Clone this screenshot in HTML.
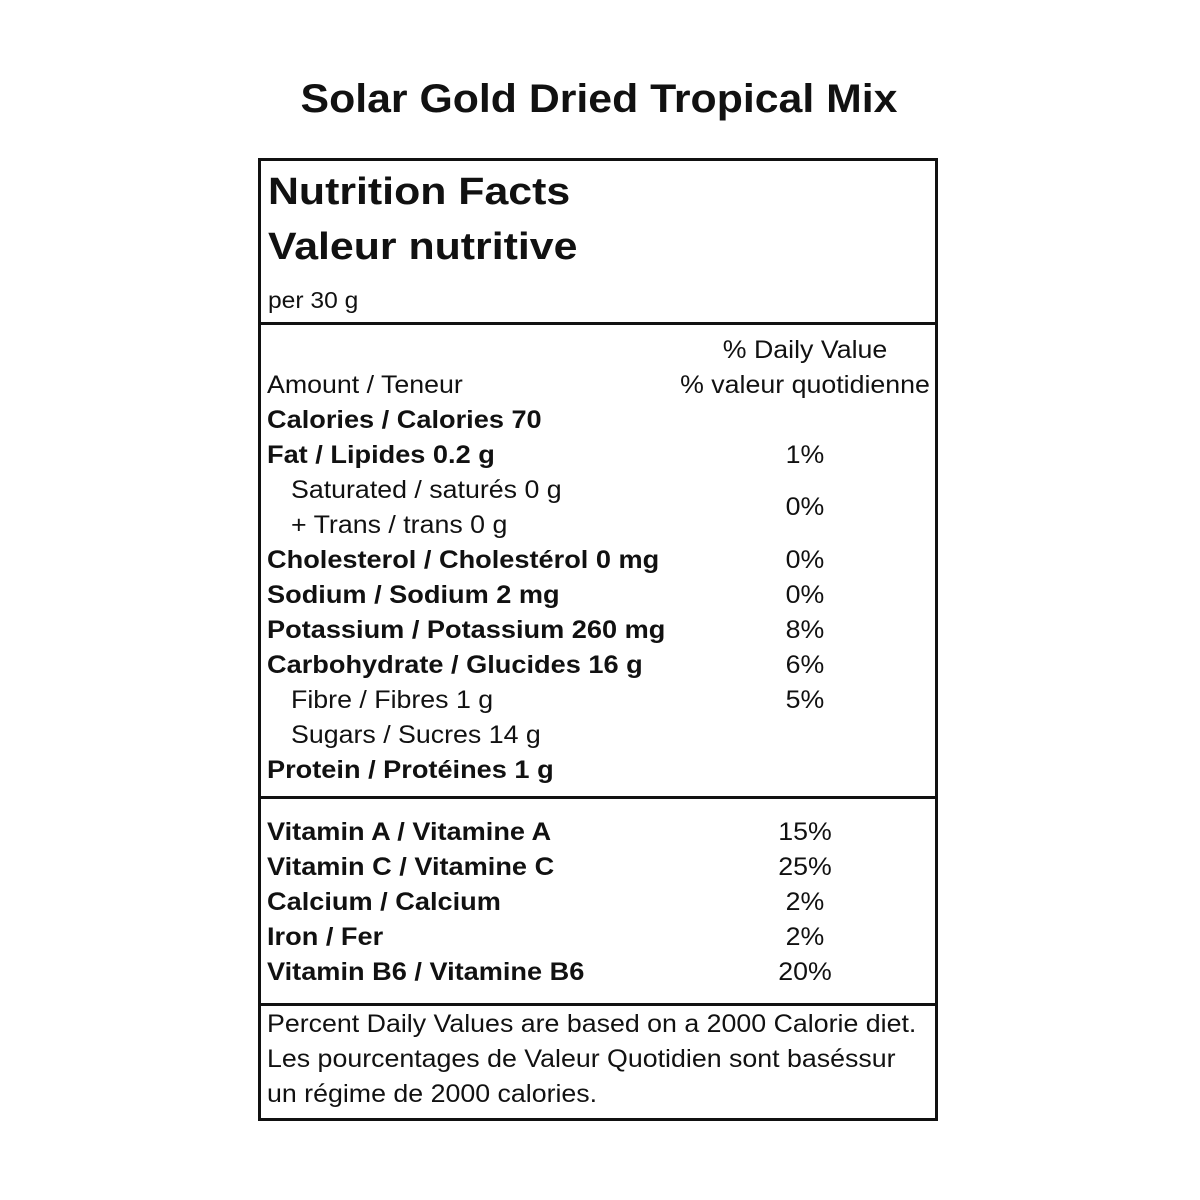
<!DOCTYPE html><html><head><style>
body{margin:0;width:1200px;height:1200px;background:#fff;position:relative;font-family:"Liberation Sans",Arial,sans-serif;color:#111;overflow:hidden}
.t{position:absolute;white-space:nowrap;height:40px;line-height:40px;font-size:25px;transform:scaleX(1.07);transform-origin:0 50%}
.b{font-weight:bold;transform:scaleX(1.086)}
.h{transform:scaleX(1.127)}
.c{text-align:center;width:300px;transform-origin:50% 50%}
.line{position:absolute;left:259px;width:678px;height:3px;background:#111}
</style></head><body>
<div class="t b c" style="left:0;width:1198px;top:77px;font-size:40px;height:44px;line-height:44px;transform:scaleX(1.07)">Solar Gold Dried Tropical Mix</div>
<div style="position:absolute;left:258px;top:158px;width:674px;height:957px;border:3px solid #111"></div>
<div class="line" style="top:322px"></div>
<div class="line" style="top:796px"></div>
<div class="line" style="top:1003px"></div>
<div class="t b h" style="left:268px;top:170px;font-size:38px;height:44px;line-height:44px">Nutrition Facts</div>
<div class="t b h" style="left:268px;top:225px;font-size:38px;height:44px;line-height:44px">Valeur nutritive</div>
<div class="t" style="left:268px;top:280px;font-size:23px">per 30 g</div>
<div class="t c" style="left:655px;top:330px">% Daily Value</div>
<div class="t c" style="left:655px;top:365px">% valeur quotidienne</div>
<div class="t" style="left:267px;top:365px">Amount / Teneur</div>
<div class="t b" style="left:267px;top:400px">Calories / Calories 70</div>
<div class="t b" style="left:267px;top:435px">Fat / Lipides 0.2 g</div><div class="t c" style="left:655px;top:435px">1%</div>
<div class="t" style="left:291px;top:470px">Saturated / saturés 0 g</div>
<div class="t" style="left:291px;top:505px">+ Trans / trans 0 g</div><div class="t c" style="left:655px;top:487px">0%</div>
<div class="t b" style="left:267px;top:540px">Cholesterol / Cholestérol 0 mg</div><div class="t c" style="left:655px;top:540px">0%</div>
<div class="t b" style="left:267px;top:575px">Sodium / Sodium 2 mg</div><div class="t c" style="left:655px;top:575px">0%</div>
<div class="t b" style="left:267px;top:610px">Potassium / Potassium 260 mg</div><div class="t c" style="left:655px;top:610px">8%</div>
<div class="t b" style="left:267px;top:645px">Carbohydrate / Glucides 16 g</div><div class="t c" style="left:655px;top:645px">6%</div>
<div class="t" style="left:291px;top:680px">Fibre / Fibres 1 g</div><div class="t c" style="left:655px;top:680px">5%</div>
<div class="t" style="left:291px;top:715px">Sugars / Sucres 14 g</div>
<div class="t b" style="left:267px;top:750px">Protein / Protéines 1 g</div>
<div class="t b" style="left:267px;top:812px">Vitamin A / Vitamine A</div><div class="t c" style="left:655px;top:812px">15%</div>
<div class="t b" style="left:267px;top:847px">Vitamin C / Vitamine C</div><div class="t c" style="left:655px;top:847px">25%</div>
<div class="t b" style="left:267px;top:882px">Calcium / Calcium</div><div class="t c" style="left:655px;top:882px">2%</div>
<div class="t b" style="left:267px;top:917px">Iron / Fer</div><div class="t c" style="left:655px;top:917px">2%</div>
<div class="t b" style="left:267px;top:952px">Vitamin B6 / Vitamine B6</div><div class="t c" style="left:655px;top:952px">20%</div>
<div class="t" style="left:267px;top:1004px">Percent Daily Values are based on a 2000 Calorie diet.</div>
<div class="t" style="left:267px;top:1039px">Les pourcentages de Valeur Quotidien sont baséssur</div>
<div class="t" style="left:267px;top:1074px">un régime de 2000 calories.</div>
</body></html>
